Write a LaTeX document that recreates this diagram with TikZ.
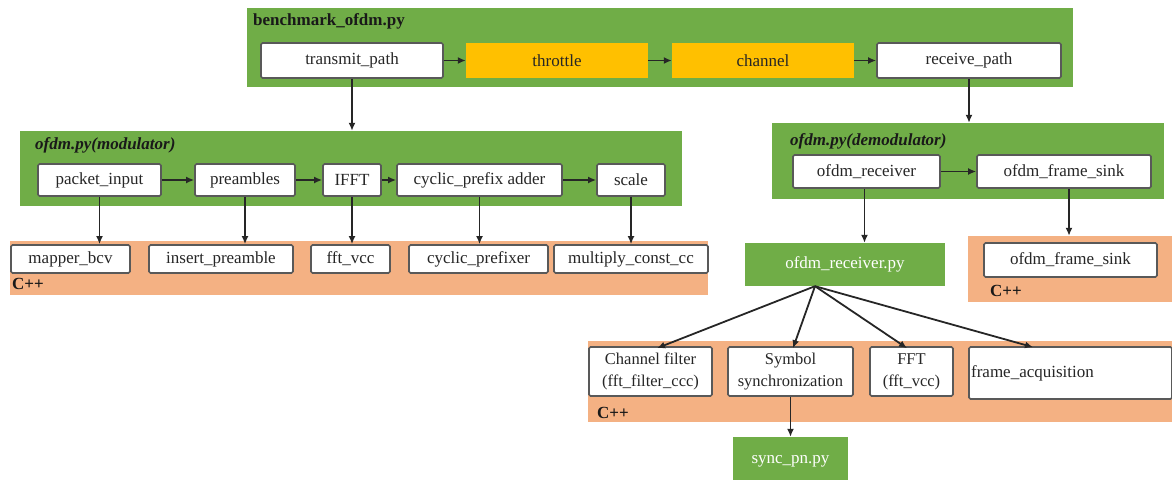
\documentclass[tikz,border=0pt]{standalone}
\usepackage{fontspec}
\setmainfont{Liberation Serif}
\usetikzlibrary{arrows.meta}
\definecolor{grn}{HTML}{70AD47}
\definecolor{org}{HTML}{FFC000}
\definecolor{sal}{HTML}{F4B183}
\definecolor{txt}{HTML}{262626}
\begin{document}
\begin{tikzpicture}[x=1pt,y=-1pt,
  cont/.style={fill=grn, draw=none, inner sep=0pt, anchor=center},
  cpp/.style={fill=sal, draw=none, inner sep=0pt, anchor=center},
  wbox/.style={fill=white, draw=black!65, line width=1.7pt, rounded corners=1.5pt, inner sep=0pt,
     text=txt, font=\fontsize{17}{20}\selectfont},
  obox/.style={fill=org, draw=none, inner sep=0pt, text=txt, font=\fontsize{17}{20}\selectfont},
  gbox/.style={fill=grn, draw=none, inner sep=0pt, text=white, font=\fontsize{17}{20}\selectfont},
  tbox/.style={wbox, align=center, font=\fontsize{16.5}{22}\selectfont},
  lbl/.style={anchor=west, inner sep=0pt, text=black!90, font=\fontsize{17}{20}\selectfont\bfseries},
  arr/.style={-{Latex[length=8pt,width=7pt]}, line width=1.8pt, black!85}
]
\useasboundingbox (0,0) rectangle (1172,479);
\clip (0,0) rectangle (1172,479);

% ---------- top container
\node[cont, minimum width=826, minimum height=79] (top) at (660,47.5) {};
\node[lbl] (toplbl) at (253,21) {benchmark\_ofdm.py};
\node[wbox, minimum width=182, minimum height=35] (tx) at (352,60.5) {transmit\_path};
\node[obox, minimum width=182, minimum height=35] (thr) at (557,60.5) {throttle};
\node[obox, minimum width=182, minimum height=35] (chn) at (763,60.5) {channel};
\node[wbox, minimum width=184, minimum height=35] (rx) at (969,60.5) {receive\_path};
\draw[arr] (tx) -- (thr);
\draw[arr] (thr) -- (chn);
\draw[arr] (chn) -- (rx);

% ---------- modulator
\node[cont, minimum width=662, minimum height=75] (mod) at (351,168.5) {};
\node[lbl, font=\fontsize{17}{20}\selectfont\bfseries\itshape] (modlbl) at (35,145) {ofdm.py(modulator)};
\node[wbox, minimum width=123, minimum height=32] (pin) at (99.5,180) {packet\_input};
\node[wbox, minimum width=100, minimum height=32] (pre) at (245,180) {preambles};
\node[wbox, minimum width=58, minimum height=32] (ifft) at (352,180) {IFFT};
\node[wbox, minimum width=165, minimum height=32] (cpa) at (479.5,180) {cyclic\_prefix adder};
\node[wbox, minimum width=68, minimum height=32] (scl) at (631,180) {scale};
\draw[arr] (pin) -- (pre);
\draw[arr] (pre) -- (ifft);
\draw[arr] (ifft) -- (cpa);
\draw[arr] (cpa) -- (scl);
\draw[arr] (tx.south) -- (tx.south |- mod.north);

% ---------- C++ left
\node[cpp, minimum width=698, minimum height=54] (cppL) at (359,268) {};
\node[lbl] (cppLl) at (12,284) {C++};
\node[wbox, minimum width=119, minimum height=28] (map) at (70.5,259) {mapper\_bcv};
\node[wbox, minimum width=144, minimum height=28] (ins) at (221,259) {insert\_preamble};
\node[wbox, minimum width=79, minimum height=28] (fftv) at (350.5,259) {fft\_vcc};
\node[wbox, minimum width=139, minimum height=28] (cpr) at (478.5,259) {cyclic\_prefixer};
\node[wbox, minimum width=154, minimum height=28] (mul) at (631,259) {multiply\_const\_cc};
\draw[arr] (pin.south) -- (pin.south |- map.north);
\draw[arr] (pre.south) -- (pre.south |- ins.north);
\draw[arr] (ifft.south) -- (ifft.south |- fftv.north);
\draw[arr] (cpa.south) -- (cpa.south |- cpr.north);
\draw[arr] (scl.south) -- (scl.south |- mul.north);

% ---------- demodulator
\node[cont, minimum width=392, minimum height=76] (dem) at (968,161) {};
\node[lbl, font=\fontsize{17}{20}\selectfont\bfseries\itshape] (demlbl) at (790,141) {ofdm.py(demodulator)};
\node[wbox, minimum width=147, minimum height=33] (orx) at (866.5,171.5) {ofdm\_receiver};
\node[wbox, minimum width=174, minimum height=33] (ofs) at (1064,171.5) {ofdm\_frame\_sink};
\draw[arr] (orx) -- (ofs);
\draw[arr] (rx.south) -- (rx.south |- dem.north);

% ---------- ofdm_receiver.py
\node[gbox, minimum width=200, minimum height=43] (orxpy) at (845,264.5) {ofdm\_receiver.py};
\draw[arr] ([xshift=-2]orx.south) -- ([xshift=-2]orx.south |- orxpy.north);

% ---------- C++ right
\node[cpp, minimum width=204, minimum height=66] (cppR) at (1070,269) {};
\node[lbl] (cppRl) at (990,291) {C++};
\node[wbox, minimum width=173, minimum height=34] (ofs2) at (1070.5,260) {ofdm\_frame\_sink};
\draw[arr] ([xshift=5]ofs.south) -- ([xshift=5]ofs.south |- cppR.north);

% ---------- C++ bottom
\node[cpp, minimum width=584, minimum height=81] (cppB) at (880,381.5) {};
\node[lbl] (cppBl) at (597,413) {C++};
\node[tbox, minimum width=123, minimum height=49] (chf) at (650.5,371.5) {Channel filter\\(fft\_filter\_ccc)};
\node[tbox, minimum width=125, minimum height=49] (sym) at (790.5,371.5) {Symbol\\synchronization};
\node[tbox, minimum width=83, minimum height=49] (fft) at (911.5,371.5) {FFT\\(fft\_vcc)};
\node[wbox, minimum width=203, minimum height=52] (fac) at (1070.5,373) {\hspace*{-76pt}\raisebox{-3pt}{frame\_acquisition}};

\coordinate (fan) at ([xshift=-30]orxpy.south);
\draw[arr] (fan) -- ([xshift=6.5,yshift=-2]chf.north);
\draw[arr] (fan) -- ([xshift=2.5,yshift=-2]sym.north);
\draw[arr] (fan) -- ([xshift=-4.5,yshift=-2]fft.north);
\draw[arr] (fan) -- ([xshift=-37.5,yshift=-1]fac.north);

% ---------- sync_pn.py
\node[gbox, minimum width=115, minimum height=50] (spn) at (790.5,462) {\raisebox{6pt}{sync\_pn.py}};
\draw[arr] (sym.south) -- (sym.south |- spn.north);
\end{tikzpicture}
\end{document}
